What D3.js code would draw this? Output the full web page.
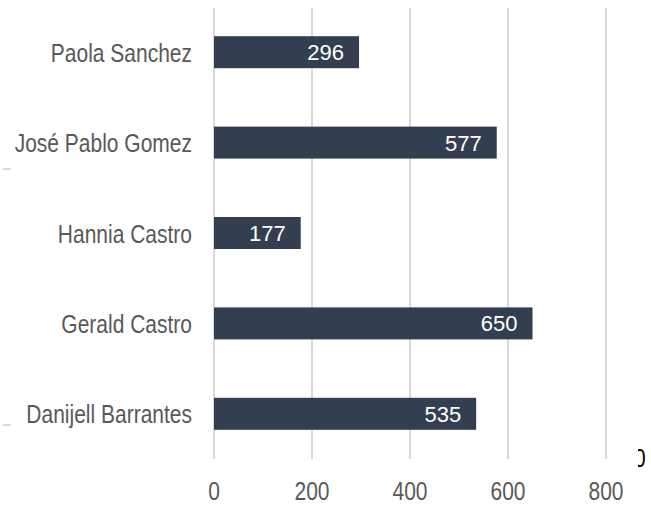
<!DOCTYPE html>
<html>
<head>
<meta charset="utf-8">
<script src="https://cdn.jsdelivr.net/npm/d3@7"></script>
<style>
  body { margin: 0; background: #fff; }
  text { font-family: "Liberation Sans", Arial, sans-serif; }
</style>
</head>
<body>
<div id="chart"></div>
<script>
// data
const names = ["Paola Sanchez", "José Pablo Gomez", "Hannia Castro", "Gerald Castro", "Danijell Barrantes"];
const values = [296, 577, 177, 650, 535];
const ticks = [0, 200, 400, 600, 800];

const data = names.map((n, i) => ({ name: n, value: values[i] }));

const width = 651;
const height = 508;
const narrow = 0.84; // squeeze to look like a narrow font

const svg = d3.select("#chart")
  .append("svg")
  .attr("width", width)
  .attr("height", height);

const xScale = d3.scaleLinear()
  .domain([0, 800])
  .range([214, 606]);

const yScale = d3.scaleBand()
  .domain(names)
  .range([7, 459])
  .paddingInner(0.646)
  .paddingOuter(0.323);

// gridlines
svg.selectAll("line.grid")
  .data(ticks)
  .join("line")
  .attr("class", "grid")
  .attr("x1", d => xScale(d))
  .attr("x2", d => xScale(d))
  .attr("y1", 8)
  .attr("y2", 459)
  .attr("stroke", "#d9d9d9")
  .attr("stroke-width", 2);

// tick labels
svg.selectAll("g.tick")
  .data(ticks)
  .join("g")
  .attr("class", "tick")
  .attr("transform", d => `translate(${xScale(d)},500) scale(${narrow},1)`)
  .append("text")
  .attr("text-anchor", "middle")
  .attr("fill", "#595959")
  .attr("font-size", 25)
  .text(d => d);

// bars
svg.selectAll("rect.bar")
  .data(data)
  .join("rect")
  .attr("class", "bar")
  .attr("x", xScale(0))
  .attr("y", d => yScale(d.name))
  .attr("width", d => xScale(d.value) - xScale(0))
  .attr("height", yScale.bandwidth())
  .attr("fill", "#333f50");

// value labels
svg.selectAll("text.val")
  .data(data)
  .join("text")
  .attr("class", "val")
  .attr("x", d => xScale(d.value) - 15)
  .attr("y", d => yScale(d.name) + yScale.bandwidth() / 2)
  .attr("dy", "0.36em")
  .attr("text-anchor", "end")
  .attr("fill", "#fff")
  .attr("font-size", 22)
  .text(d => d.value);

// category labels
svg.selectAll("g.cat")
  .data(data)
  .join("g")
  .attr("class", "cat")
  .attr("transform", d => `translate(192,${yScale(d.name) + yScale.bandwidth() / 2}) scale(${narrow},1)`)
  .append("text")
  .attr("dy", "0.38em")
  .attr("text-anchor", "end")
  .attr("fill", "#595959")
  .attr("font-size", 25)
  .text(d => d.name);

// small stray marks on the left
svg.selectAll("line.dash")
  .data([169, 425])
  .join("line")
  .attr("class", "dash")
  .attr("x1", 3)
  .attr("x2", 11)
  .attr("y1", d => d)
  .attr("y2", d => d)
  .attr("stroke", "#d0d0d0")
  .attr("stroke-width", 1.5);

// clipped "0" at the right edge
svg.append("clipPath")
  .attr("id", "clipr")
  .append("rect")
  .attr("x", 638)
  .attr("y", 440)
  .attr("width", 20)
  .attr("height", 30);

svg.append("g")
  .attr("clip-path", "url(#clipr)")
  .append("text")
  .attr("transform", `translate(634,467) scale(${narrow},1)`)
  .attr("fill", "#000")
  .attr("font-size", 25)
  .text("0");
</script>
</body>
</html>
